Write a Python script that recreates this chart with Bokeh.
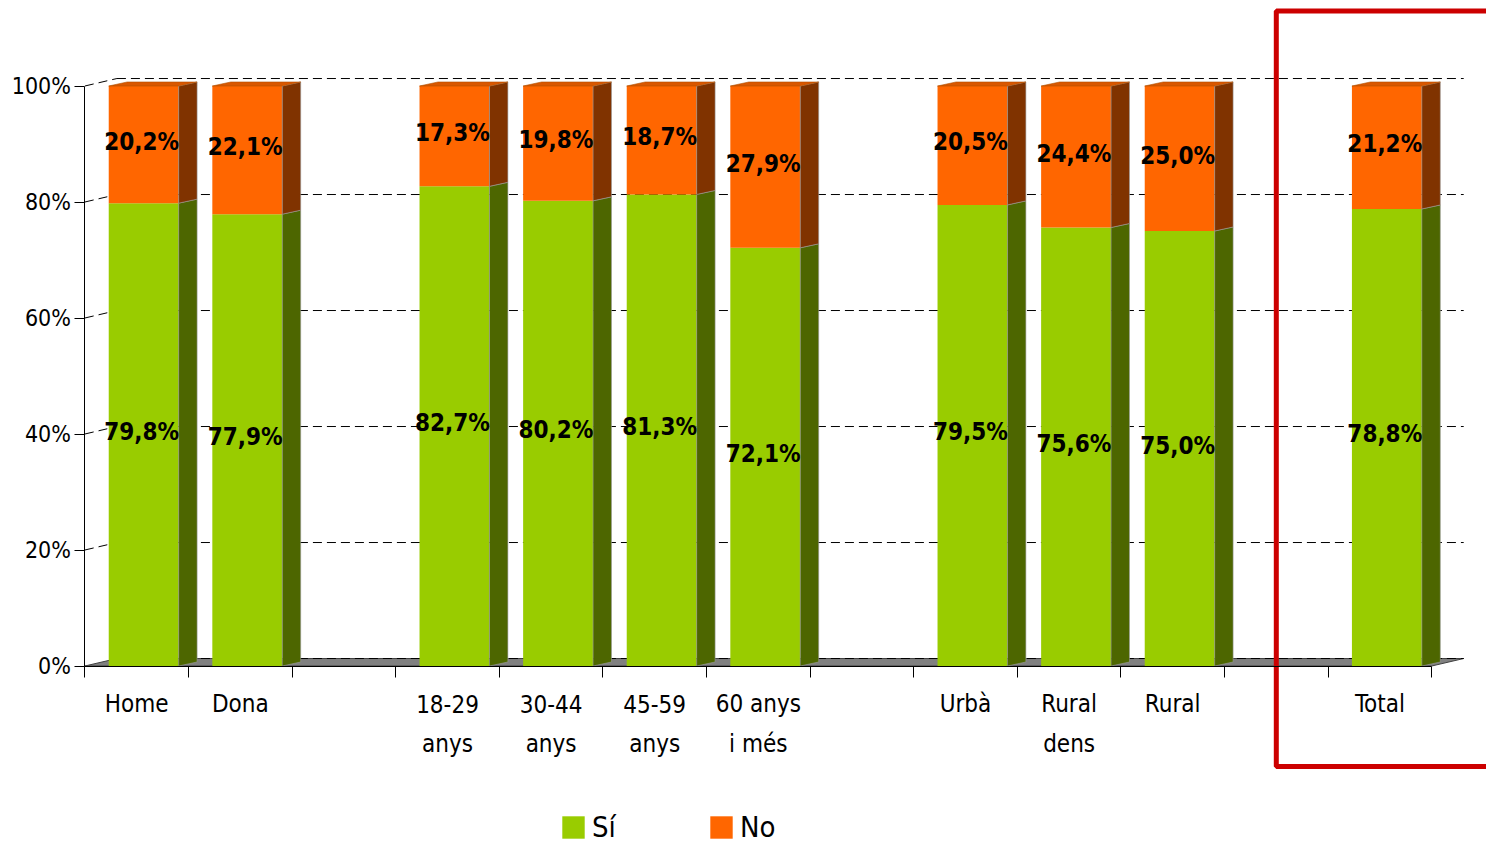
from bokeh.plotting import figure
from bokeh.models import (Range1d, LinearAxis, FixedTicker, PrintfTickFormatter,
                          CustomJSTickFormatter, Legend, LegendItem)
from bokeh.core.properties import value
from bokeh.embed import file_html
from bokeh.resources import INLINE

# ---------------- data ----------------
categories = ["Home", "Dona", "", "18-29 anys", "30-44 anys", "45-59 anys", "60 anys i més",
              "", "Urbà", "Rural dens", "Rural", "", "Total"]
label_line1 = ["Home", "Dona", "", "18-29", "30-44", "45-59", "60 anys",
               "", "Urbà", "Rural", "Rural", "", "Total"]
label_line2 = ["", "", "", "anys", "anys", "anys", "i més",
               "", "", "dens", "", "", ""]
si = [79.8, 77.9, None, 82.7, 80.2, 81.3, 72.1, None, 79.5, 75.6, 75.0, None, 78.8]
no = [20.2, 22.1, None, 17.3, 19.8, 18.7, 27.9, None, 20.5, 24.4, 25.0, None, 21.2]
y_ticks = [0, 20, 40, 60, 80, 100]
series_names = ["Sí", "No"]
highlight = "Total"

# ---------------- style ----------------
GREEN, GREEN_SIDE = "#99CC00", "#4D6600"
ORANGE, ORANGE_SIDE, ORANGE_TOP = "#FF6600", "#803300", "#D95700"
FONT = "DejaVu Sans Condensed"

FRONT_L, FRONT_R = -0.27, 0.405       # front face relative to slot centre
SIDE_DX, SIDE_DY = 0.178, 0.69        # 3D depth of bars
FLOOR_DX, FLOOR_DY = 0.309, 1.29      # 3D depth of back wall / floor

n = len(categories)
W, H = 1486, 844
x0_px, xpx = 84.4, 103.6
y0_px, ypx = 665.5, 5.8
x_range = Range1d(-x0_px / xpx, (W - x0_px) / xpx)
y_range = Range1d((y0_px - H) / ypx, y0_px / ypx)

p = figure(width=W, height=H, x_range=x_range, y_range=y_range,
           x_axis_type=None, y_axis_type=None, min_border=0,
           output_backend="svg", toolbar_location=None, outline_line_color=None)
p.xgrid.visible = False
p.ygrid.visible = False

# floor
p.patch([0, n, n + FLOOR_DX, FLOOR_DX], [0, 0, FLOOR_DY, FLOOR_DY],
        fill_color="#808080", line_color="#404040", line_width=1)

# dashed back-wall gridlines
gx, gy = [], []
for v in y_ticks:
    gx.append([FLOOR_DX, n + FLOOR_DX]); gy.append([v + FLOOR_DY, v + FLOOR_DY])
    if v > 0:
        gx.append([0, FLOOR_DX]); gy.append([v, v + FLOOR_DY])
p.multi_line(gx, gy, line_color="black", line_width=1, line_dash="9 5")

# bars
idx = [i for i in range(n) if si[i] is not None]
c = [i + 0.5 for i in idx]
s_vals = [si[i] for i in idx]
n_vals = [no[i] for i in idx]
tops = [s + v for s, v in zip(s_vals, n_vals)]
left = [x + FRONT_L for x in c]
right = [x + FRONT_R for x in c]

g_front = p.quad(left=left, right=right, bottom=0, top=s_vals, fill_color=GREEN, line_color=None)
o_front = p.quad(left=left, right=right, bottom=s_vals, top=tops, fill_color=ORANGE, line_color=None)

p.patches([[r, r + SIDE_DX, r + SIDE_DX, r] for r in right],
          [[0, SIDE_DY, s + SIDE_DY, s] for s in s_vals],
          fill_color=GREEN_SIDE, line_color="#9a9a9a", line_width=0.6)
p.patches([[r, r + SIDE_DX, r + SIDE_DX, r] for r in right],
          [[s, s + SIDE_DY, t + SIDE_DY, t] for s, t in zip(s_vals, tops)],
          fill_color=ORANGE_SIDE, line_color="#9a9a9a", line_width=0.6)
p.patches([[l, r, r + SIDE_DX, l + SIDE_DX] for l, r in zip(left, right)],
          [[t, t, t + SIDE_DY, t + SIDE_DY] for t in tops],
          fill_color=ORANGE_TOP, line_color="#b05000", line_width=0.6)

# value labels
fmt = lambda v: f"{v:.1f}".replace(".", ",") + "%"
lab_x = [(l + r) / 2 - 0.02 for l, r in zip(left, right)]
p.text(x=lab_x, y=[s / 2 for s in s_vals], text=[fmt(v) for v in s_vals],
       text_align="center", text_baseline="middle", y_offset=-3,
       text_font=value(FONT), text_font_style="bold", text_font_size="24px", text_color="black")
p.text(x=lab_x, y=[(s + t) / 2 for s, t in zip(s_vals, tops)], text=[fmt(v) for v in n_vals],
       text_align="center", text_baseline="middle", y_offset=-3,
       text_font=value(FONT), text_font_style="bold", text_font_size="24px", text_color="black")

# category labels
cx = [i + 0.5 for i in range(n)]
p.text(x=cx, y=[0] * n, text=label_line1, text_align="center", text_baseline="middle",
       y_offset=37.5, text_font=value(FONT), text_font_size="24px", text_color="black")
p.text(x=cx, y=[0] * n, text=label_line2, text_align="center", text_baseline="middle",
       y_offset=77.5, text_font=value(FONT), text_font_size="24px", text_color="black")

# highlight box around Total
hi = categories.index(highlight)
p.line([n + 1, hi - 0.5, hi - 0.5, n + 1], [112.93, 112.93, -17.33, -17.33],
       line_color="#CC0000", line_width=5)

# axes
yax = LinearAxis(fixed_location=0, bounds=(0, 100), ticker=FixedTicker(ticks=y_ticks),
                 formatter=PrintfTickFormatter(format="%d%%"))
yax.major_tick_out = 10
yax.major_tick_in = 0
yax.minor_tick_out = 0
yax.minor_tick_in = 0
yax.major_label_standoff = 4
yax.major_label_text_font = FONT
yax.major_label_text_font_size = "23px"
yax.major_label_text_color = "black"
yax.axis_line_color = "black"
p.add_layout(yax, "left")

xax = LinearAxis(fixed_location=0, bounds=(0, n), ticker=FixedTicker(ticks=list(range(n + 1))),
                 formatter=CustomJSTickFormatter(code="return ''"))
xax.major_tick_out = 11
xax.major_tick_in = 0
xax.minor_tick_out = 0
xax.minor_tick_in = 0
xax.axis_line_color = "black"
p.add_layout(xax, "below")

# legend
legend = Legend(items=[LegendItem(label=series_names[0], renderers=[g_front]),
                       LegendItem(label=series_names[1], renderers=[o_front])],
                orientation="horizontal", location=(559, 0),
                glyph_width=28, glyph_height=28, label_standoff=5, spacing=0,
                label_width=115, padding=0, margin=0,
                border_line_color=None, background_fill_alpha=0,
                label_text_font=FONT, label_text_font_size="29px", label_text_color="black")
p.add_layout(legend, "center")

open("out.html", "w").write(file_html(p, INLINE))
